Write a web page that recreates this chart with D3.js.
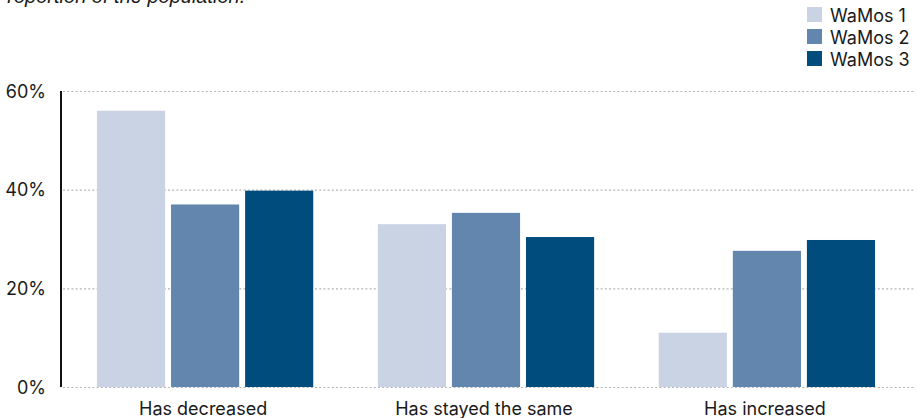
<!DOCTYPE html>
<html>
<head>
<meta charset="utf-8">
<script src="https://cdn.jsdelivr.net/npm/d3@7/dist/d3.min.js"></script>
<style>
  html, body { margin: 0; padding: 0; background: #fff; }
  svg { display: block; }
  .tick-label, .cat-label, .legend-label { font-family: Inter, "Liberation Sans", sans-serif; fill: #1a1a1a; }
  .subtitle { font-family: "Liberation Sans", Arial, sans-serif; font-style: italic; fill: #1a1a1a; }
</style>
</head>
<body>
<svg id="chart" width="917" height="418"></svg>
<script>
// Answers grouped by how things changed, one series per survey wave
const categories = ["Has decreased", "Has stayed the same", "Has increased"];
const series = ["WaMos 1", "WaMos 2", "WaMos 3"];
const wamos1 = [56, 33, 11];
const wamos2 = [37, 35.3, 27.6];
const wamos3 = [39.8, 30.4, 29.8];
const yTicks = [0, 20, 40, 60];
const colors = ["#c9d3e3", "#6386ae", "#004d7d"];

const values = [wamos1, wamos2, wamos3];

const svg = d3.select("#chart");
const W = 917, H = 418;
const plot = { left: 61, right: 911, top: 91, bottom: 387 };

const x0 = d3.scaleBand()
  .domain(categories)
  .range([plot.left, plot.right])
  .paddingInner(0.23)
  .paddingOuter(0.128);

const x1 = d3.scaleBand()
  .domain(series)
  .range([0, x0.bandwidth()])
  .paddingInner(0.08)
  .paddingOuter(0);

const y = d3.scaleLinear()
  .domain([0, 60])
  .range([plot.bottom, plot.top]);

const color = d3.scaleOrdinal().domain(series).range(colors);

// Subtitle line (runs off the top edge of the canvas)
svg.append("text")
  .attr("class", "subtitle")
  .attr("x", -6)
  .attr("y", 3)
  .attr("font-size", 20)
  .text("Proportion of the population.");

// Dotted gridlines
svg.append("g")
  .selectAll("line")
  .data(yTicks)
  .join("line")
  .attr("x1", plot.left + 2)
  .attr("x2", W - 3)
  .attr("y1", d => y(d) + 0.5)
  .attr("y2", d => y(d) + 0.5)
  .attr("stroke", "#b5b5b5")
  .attr("stroke-width", 1.2)
  .attr("stroke-dasharray", "2,2.2");

// Y tick labels
svg.append("g")
  .selectAll("text")
  .data(yTicks)
  .join("text")
  .attr("class", "tick-label")
  .attr("x", 46)
  .attr("y", d => y(d) + 6.5)
  .attr("text-anchor", "end")
  .attr("font-size", 18)
  .text(d => d + "%");

// Bars
const rows = categories.map((c, i) => ({ cat: c, vals: series.map((s, j) => ({ s, v: values[j][i] })) }));

svg.append("g")
  .selectAll("g")
  .data(rows)
  .join("g")
  .attr("transform", d => `translate(${x0(d.cat)},0)`)
  .selectAll("rect")
  .data(d => d.vals)
  .join("rect")
  .attr("x", d => x1(d.s))
  .attr("y", d => y(d.v))
  .attr("width", x1.bandwidth())
  .attr("height", d => y(0) - y(d.v))
  .attr("fill", d => color(d.s));

// Vertical axis line
svg.append("line")
  .attr("x1", plot.left).attr("x2", plot.left)
  .attr("y1", plot.top).attr("y2", plot.bottom)
  .attr("stroke", "#111")
  .attr("stroke-width", 2);

// Category labels
svg.append("g")
  .selectAll("text")
  .data(categories)
  .join("text")
  .attr("class", "cat-label")
  .attr("x", d => x0(d) + x0.bandwidth() / 2 - 2)
  .attr("y", 415)
  .attr("text-anchor", "middle")
  .attr("font-size", 18)
  .text(d => d);

// Legend
const legend = svg.append("g").attr("transform", "translate(807,7)");
const item = legend.selectAll("g")
  .data(series)
  .join("g")
  .attr("transform", (d, i) => `translate(0,${i * 22})`);
item.append("rect")
  .attr("width", 15).attr("height", 15)
  .attr("fill", d => color(d));
item.append("text")
  .attr("class", "legend-label")
  .attr("x", 23)
  .attr("y", 15)
  .attr("font-size", 18)
  .text(d => d);
</script>
</body>
</html>
